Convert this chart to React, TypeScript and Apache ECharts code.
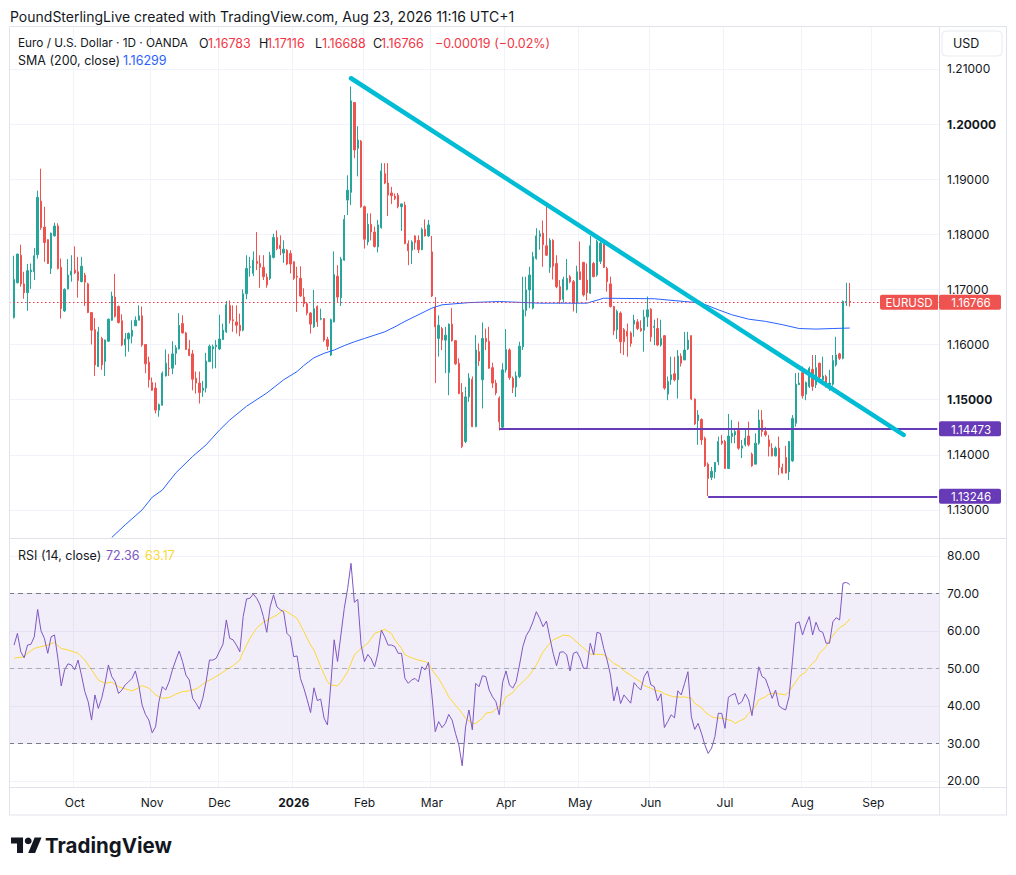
import React, { useEffect, useRef } from "react";
import * as echarts from "echarts";

// ---------- DATA ----------
const OPEN = [
  1.1649, 1.1712, 1.1762, 1.1710, 1.1694, 1.1732, 1.1732, 1.1763, 1.1860, 1.1813,
  1.1790, 1.1738, 1.1797, 1.1815, 1.1740, 1.1661, 1.1701, 1.1726, 1.1735, 1.1732,
  1.1714, 1.1726, 1.1710, 1.1658, 1.1627, 1.1560, 1.1611, 1.1569, 1.1606, 1.1644,
  1.1686, 1.1669, 1.1643, 1.1599, 1.1610, 1.1615, 1.1634, 1.1644, 1.1652, 1.1600,
  1.1568, 1.1531, 1.1521, 1.1481, 1.1490, 1.1543, 1.1557, 1.1557, 1.1584, 1.1592,
  1.1638, 1.1621, 1.1592, 1.1583, 1.1539, 1.1530, 1.1517, 1.1521, 1.1569, 1.1592,
  1.1596, 1.1592, 1.1609, 1.1623, 1.1671, 1.1645, 1.1641, 1.1635, 1.1626, 1.1692,
  1.1740, 1.1729, 1.1751, 1.1747, 1.1740, 1.1722, 1.1720, 1.1758, 1.1794, 1.1780,
  1.1766, 1.1771, 1.1765, 1.1750, 1.1724, 1.1720, 1.1686, 1.1674, 1.1657, 1.1632,
  1.1669, 1.1646, 1.1647, 1.1609, 1.1581, 1.1641, 1.1724, 1.1685, 1.1753, 1.1862,
  1.1876, 1.2039, 1.1956, 1.1969, 1.1850, 1.1786, 1.1818, 1.1804, 1.1777, 1.1812,
  1.1910, 1.1893, 1.1875, 1.1869, 1.1871, 1.1850, 1.1853, 1.1783, 1.1771, 1.1797,
  1.1789, 1.1772, 1.1809, 1.1797, 1.1768, 1.1668, 1.1611, 1.1629, 1.1608, 1.1549,
  1.1637, 1.1607, 1.1566, 1.1513, 1.1424, 1.1505, 1.1537, 1.1451, 1.1587, 1.1536,
  1.1611, 1.1606, 1.1558, 1.1530, 1.1503, 1.1450, 1.1554, 1.1590, 1.1539, 1.1523,
  1.1542, 1.1596, 1.1662, 1.1699, 1.1666, 1.1756, 1.1796, 1.1802, 1.1779, 1.1740,
  1.1789, 1.1747, 1.1705, 1.1682, 1.1700, 1.1723, 1.1714, 1.1678, 1.1732, 1.1749,
  1.1717, 1.1693, 1.1747, 1.1726, 1.1751, 1.1785, 1.1738, 1.1710, 1.1669, 1.1627,
  1.1657, 1.1627, 1.1624, 1.1621, 1.1637, 1.1641, 1.1629, 1.1626, 1.1650,
  1.1664, 1.1631, 1.1629, 1.1599, 1.1616, 1.1510, 1.1536, 1.1547, 1.1536, 1.1579,
  1.1572, 1.1592, 1.1616, 1.1501, 1.1462, 1.1464, 1.1430, 1.1383, 1.1359, 1.1369,
  1.1387, 1.1425, 1.1424, 1.1375, 1.1433, 1.1436, 1.1444, 1.1412, 1.1418, 1.1434,
  1.1401, 1.1383, 1.1421, 1.1463, 1.1442, 1.1427, 1.1412, 1.1398, 1.1412, 1.1377,
  1.1395, 1.1369, 1.1389, 1.1457, 1.1527, 1.1549, 1.1510, 1.1524, 1.1555, 1.1527,
  1.1566, 1.1536, 1.1542, 1.1527, 1.1528, 1.1563, 1.1583, 1.1575, 1.1676, 1.16783,
];
const HIGH = [
  1.1761, 1.1765, 1.1781, 1.1732, 1.1746, 1.1747, 1.1775, 1.1879, 1.1919, 1.1850,
  1.1791, 1.1803, 1.1821, 1.1820, 1.1756, 1.1702, 1.1755, 1.1762, 1.1778, 1.1759,
  1.1759, 1.1730, 1.1712, 1.1659, 1.1648, 1.1632, 1.1614, 1.1609, 1.1647, 1.1696,
  1.1728, 1.1671, 1.1655, 1.1621, 1.1622, 1.1644, 1.1651, 1.1671, 1.1669, 1.1601,
  1.1578, 1.1540, 1.1531, 1.1493, 1.1551, 1.1591, 1.1583, 1.1606, 1.1599, 1.1657,
  1.1653, 1.1623, 1.1608, 1.1590, 1.1551, 1.1551, 1.1534, 1.1585, 1.1600, 1.1600,
  1.1608, 1.1654, 1.1638, 1.1679, 1.1680, 1.1671, 1.1671, 1.1656, 1.1700, 1.1762,
  1.1759, 1.1769, 1.1804, 1.1762, 1.1762, 1.1729, 1.1768, 1.1801, 1.1807, 1.1798,
  1.1789, 1.1773, 1.1771, 1.1751, 1.1741, 1.1742, 1.1702, 1.1677, 1.1659, 1.1699,
  1.1671, 1.1665, 1.1648, 1.1614, 1.1647, 1.1769, 1.1744, 1.1759, 1.1835, 1.1907,
  1.2068, 1.2040, 1.1996, 1.1971, 1.1852, 1.1838, 1.1838, 1.1814, 1.1826, 1.1929,
  1.1929, 1.1929, 1.1886, 1.1874, 1.1875, 1.1856, 1.1859, 1.1789, 1.1789, 1.1798,
  1.1798, 1.1812, 1.1827, 1.1826, 1.1797, 1.1686, 1.1653, 1.1632, 1.1632, 1.1638,
  1.1666, 1.1608, 1.1575, 1.1530, 1.1523, 1.1548, 1.1542, 1.1617, 1.1602, 1.1640,
  1.1629, 1.1632, 1.1567, 1.1536, 1.1506, 1.1566, 1.1628, 1.1593, 1.1542, 1.1551,
  1.1605, 1.1723, 1.1723, 1.1741, 1.1768, 1.1811, 1.1807, 1.1825, 1.1850, 1.1793,
  1.1791, 1.1762, 1.1717, 1.1723, 1.1755, 1.1726, 1.1717, 1.1743, 1.1787, 1.1750,
  1.1747, 1.1797, 1.1750, 1.1790, 1.1787, 1.1790, 1.1741, 1.1723, 1.1670, 1.1663,
  1.1660, 1.1630, 1.1638, 1.1624, 1.1654, 1.1646, 1.1644, 1.1663, 1.1687,
  1.1666, 1.1645, 1.1648, 1.1645, 1.1617, 1.1542, 1.1578, 1.1578, 1.1590, 1.1584,
  1.1623, 1.1623, 1.1617, 1.1502, 1.1481, 1.1466, 1.1433, 1.1386, 1.1378, 1.1387,
  1.1433, 1.1436, 1.1427, 1.1474, 1.1463, 1.1445, 1.1460, 1.1427, 1.1448, 1.1460,
  1.1404, 1.1439, 1.1482, 1.1481, 1.1450, 1.1436, 1.1421, 1.1415, 1.1433, 1.1384,
  1.1416, 1.1425, 1.1472, 1.1548, 1.1549, 1.1560, 1.1533, 1.1560, 1.1581, 1.1581,
  1.1567, 1.1578, 1.1545, 1.1554, 1.1581, 1.1614, 1.1585, 1.1680, 1.1712, 1.17116,
];
const LOW = [
  1.1647, 1.1711, 1.1705, 1.1683, 1.1661, 1.1701, 1.1717, 1.1756, 1.1808, 1.1750,
  1.1746, 1.1728, 1.1796, 1.1736, 1.1647, 1.1659, 1.1700, 1.1714, 1.1728, 1.1685,
  1.1713, 1.1670, 1.1657, 1.1600, 1.1543, 1.1559, 1.1554, 1.1543, 1.1605, 1.1643,
  1.1649, 1.1638, 1.1597, 1.1578, 1.1587, 1.1602, 1.1634, 1.1644, 1.1596, 1.1548,
  1.1522, 1.1516, 1.1475, 1.1469, 1.1489, 1.1542, 1.1543, 1.1546, 1.1563, 1.1591,
  1.1620, 1.1590, 1.1579, 1.1517, 1.1511, 1.1493, 1.1505, 1.1513, 1.1568, 1.1556,
  1.1557, 1.1590, 1.1608, 1.1621, 1.1638, 1.1623, 1.1620, 1.1615, 1.1624, 1.1682,
  1.1723, 1.1724, 1.1735, 1.1703, 1.1717, 1.1703, 1.1717, 1.1756, 1.1771, 1.1762,
  1.1748, 1.1744, 1.1729, 1.1717, 1.1659, 1.1686, 1.1668, 1.1653, 1.1620, 1.1630,
  1.1632, 1.1644, 1.1605, 1.1590, 1.1579, 1.1640, 1.1677, 1.1670, 1.1752, 1.1835,
  1.1853, 1.1938, 1.1905, 1.1848, 1.1774, 1.1780, 1.1789, 1.1776, 1.1767, 1.1810,
  1.1891, 1.1833, 1.1855, 1.1862, 1.1847, 1.1806, 1.1782, 1.1744, 1.1746, 1.1772,
  1.1766, 1.1771, 1.1796, 1.1795, 1.1686, 1.1530, 1.1578, 1.1590, 1.1548, 1.1508,
  1.1605, 1.1563, 1.1510, 1.1412, 1.1421, 1.1496, 1.1450, 1.1450, 1.1561, 1.1484,
  1.1590, 1.1556, 1.1521, 1.1508, 1.1444, 1.1448, 1.1549, 1.1536, 1.1512, 1.1505,
  1.1539, 1.1590, 1.1651, 1.1666, 1.1664, 1.1754, 1.1772, 1.1741, 1.1761, 1.1730,
  1.1718, 1.1702, 1.1674, 1.1676, 1.1698, 1.1711, 1.1660, 1.1657, 1.1717, 1.1687,
  1.1680, 1.1692, 1.1722, 1.1723, 1.1746, 1.1739, 1.1696, 1.1667, 1.1617, 1.1610,
  1.1584, 1.1581, 1.1578, 1.1596, 1.1614, 1.1626, 1.1623, 1.1587, 1.1632,
  1.1605, 1.1599, 1.1597, 1.1596, 1.1518, 1.1499, 1.1527, 1.1533, 1.1502, 1.1560,
  1.1572, 1.1590, 1.1499, 1.1454, 1.1418, 1.1418, 1.1378, 1.1325, 1.1354, 1.1357,
  1.1381, 1.1418, 1.1375, 1.1375, 1.1421, 1.1421, 1.1409, 1.1394, 1.1415, 1.1415,
  1.1378, 1.1383, 1.1418, 1.1433, 1.1433, 1.1397, 1.1397, 1.1397, 1.1363, 1.1366,
  1.1366, 1.1354, 1.1387, 1.1451, 1.1527, 1.1502, 1.1499, 1.1521, 1.1516, 1.1521,
  1.1539, 1.1527, 1.1522, 1.1516, 1.1525, 1.1560, 1.1572, 1.1573, 1.1670, 1.16688,
];
const CLOSE = [
  1.1718, 1.1764, 1.1710, 1.1694, 1.1734, 1.1735, 1.1761, 1.1867, 1.1812, 1.1785,
  1.1747, 1.1802, 1.1815, 1.1738, 1.1665, 1.1700, 1.1726, 1.1733, 1.1730, 1.1716,
  1.1742, 1.1713, 1.1658, 1.1626, 1.1563, 1.1623, 1.1563, 1.1608, 1.1646, 1.1688,
  1.1651, 1.1640, 1.1599, 1.1610, 1.1620, 1.1626, 1.1644, 1.1652, 1.1599, 1.1565,
  1.1536, 1.1517, 1.1481, 1.1491, 1.1548, 1.1566, 1.1556, 1.1583, 1.1594, 1.1635,
  1.1621, 1.1591, 1.1580, 1.1537, 1.1530, 1.1513, 1.1521, 1.1570, 1.1597, 1.1596,
  1.1599, 1.1610, 1.1626, 1.1672, 1.1644, 1.1643, 1.1635, 1.1625, 1.1692, 1.1738,
  1.1741, 1.1753, 1.1747, 1.1740, 1.1723, 1.1708, 1.1762, 1.1794, 1.1774, 1.1774,
  1.1773, 1.1746, 1.1746, 1.1720, 1.1722, 1.1688, 1.1674, 1.1657, 1.1637, 1.1665,
  1.1641, 1.1647, 1.1608, 1.1597, 1.1645, 1.1727, 1.1686, 1.1755, 1.1827, 1.1880,
  1.2042, 1.1953, 1.1971, 1.1850, 1.1791, 1.1818, 1.1804, 1.1778, 1.1817, 1.1915,
  1.1893, 1.1871, 1.1870, 1.1865, 1.1850, 1.1855, 1.1783, 1.1770, 1.1786, 1.1785,
  1.1772, 1.1809, 1.1797, 1.1817, 1.1688, 1.1632, 1.1635, 1.1608, 1.1617, 1.1637,
  1.1607, 1.1565, 1.1511, 1.1415, 1.1505, 1.1539, 1.1451, 1.1590, 1.1570, 1.1611,
  1.1605, 1.1557, 1.1530, 1.1512, 1.1460, 1.1554, 1.1591, 1.1540, 1.1522, 1.1543,
  1.1597, 1.1663, 1.1699, 1.1726, 1.1759, 1.1797, 1.1801, 1.1781, 1.1762, 1.1789,
  1.1742, 1.1705, 1.1681, 1.1718, 1.1720, 1.1714, 1.1675, 1.1732, 1.1718, 1.1690,
  1.1694, 1.1779, 1.1723, 1.1787, 1.1784, 1.1740, 1.1714, 1.1669, 1.1625, 1.1660,
  1.1605, 1.1605, 1.1615, 1.1602, 1.1644, 1.1629, 1.1625, 1.1650, 1.1663,
  1.1614, 1.1633, 1.1599, 1.1611, 1.1521, 1.1533, 1.1545, 1.1536, 1.1579, 1.1566,
  1.1590, 1.1608, 1.1501, 1.1456, 1.1472, 1.1427, 1.1380, 1.1357, 1.1370, 1.1386,
  1.1424, 1.1421, 1.1375, 1.1434, 1.1439, 1.1442, 1.1412, 1.1416, 1.1430, 1.1418,
  1.1380, 1.1421, 1.1463, 1.1442, 1.1436, 1.1415, 1.1398, 1.1412, 1.1377, 1.1367,
  1.1367, 1.1424, 1.1466, 1.1528, 1.1530, 1.1507, 1.1531, 1.1557, 1.1524, 1.1558,
  1.1541, 1.1543, 1.1524, 1.1530, 1.1571, 1.1581, 1.1575, 1.1678, 1.1678, 1.16766,
];

// SMA (200, close): bar index -> value
const SMA_IDX = [29, 33, 38, 41, 44, 48, 53, 57, 61, 64, 69, 75, 80, 84, 86, 89, 92, 95, 98, 101, 104, 107, 110, 113, 116, 119, 122, 124, 127, 135, 144, 156, 170, 175, 190, 199, 204, 209, 213, 218, 223, 228, 233, 238, 243, 248];
const SMA_VAL = [1.1250, 1.1273, 1.1300, 1.1323, 1.1336, 1.1367, 1.1397, 1.1418, 1.1445, 1.1463, 1.1488, 1.1512, 1.1536, 1.1551, 1.1562, 1.1576, 1.1584, 1.1590, 1.1598, 1.1605, 1.1611, 1.1617, 1.1623, 1.1632, 1.1642, 1.1651, 1.1660, 1.1666, 1.1672, 1.1676, 1.1678, 1.1675, 1.1675, 1.1684, 1.1683, 1.1678, 1.1675, 1.1663, 1.1654, 1.1646, 1.1642, 1.1636, 1.1629, 1.1628, 1.1629, 1.16299];

// RSI (14, close), one value per bar
const RSI = [
  56.2, 59.3, 54.4, 52.8, 56.2, 56.4, 58.4, 65.7, 60.0, 58.0,
  54.0, 58.4, 58.9, 52.7, 45.3, 49.6, 51.2, 50.9, 49.6, 52.2,
  48.2, 43.8, 41.1, 36.2, 42.9, 39.3, 42.0, 46.0, 50.9, 47.8,
  46.4, 43.3, 44.2, 45.6, 46.4, 47.3, 49.3, 45.6, 40.2, 37.7,
  36.2, 32.8, 34.4, 41.1, 45.1, 44.2, 46.4, 49.6, 52.2, 54.6,
  51.8, 48.2, 46.9, 42.0, 40.7, 39.1, 42.0, 46.4, 52.2, 52.2,
  52.7, 54.6, 56.4, 62.9, 58.0, 57.6, 56.2, 54.4, 63.8, 68.5,
  68.7, 69.8, 68.7, 66.9, 63.8, 59.6, 66.4, 69.6, 66.4, 65.6,
  65.1, 59.3, 58.4, 53.1, 53.3, 47.3, 44.7, 41.6, 38.2, 44.8,
  41.4, 41.8, 36.7, 34.9, 45.6, 57.6, 51.8, 58.9, 66.0, 71.3,
  78.0, 67.6, 68.4, 56.2, 51.8, 53.7, 52.5, 50.4, 54.0, 60.2,
  58.4, 56.2, 56.2, 55.8, 54.0, 54.0, 47.3, 46.0, 46.9, 47.3,
  46.4, 50.4, 49.6, 51.6, 42.9, 33.1, 35.8, 34.2, 35.3, 37.7,
  36.2, 32.7, 29.6, 24.0, 34.4, 38.9, 33.6, 46.0, 45.1, 48.0,
  47.8, 44.2, 42.4, 41.1, 37.6, 46.3, 49.3, 45.6, 44.7, 46.4,
  50.9, 55.8, 58.7, 60.2, 62.4, 65.1, 63.3, 61.1, 62.6, 58.2,
  54.0, 50.7, 54.3, 54.4, 53.6, 49.3, 54.0, 54.4, 52.7, 50.0,
  50.0, 56.7, 53.6, 59.6, 59.3, 55.3, 52.2, 48.2, 41.3, 45.1,
  40.6, 42.9, 41.8, 40.7, 46.2, 45.1, 44.2, 47.8, 49.3, 45.6,
  45.1, 41.3, 43.2, 34.2, 35.8, 37.6, 36.8, 44.0, 42.9, 46.0,
  49.1, 37.1, 33.7, 35.3, 32.7, 29.6, 27.3, 28.7, 31.8, 38.0,
  38.0, 34.0, 42.3, 42.9, 43.3, 40.4, 41.1, 43.2, 41.6, 37.4,
  43.8, 50.4, 47.8, 47.2, 44.7, 42.0, 44.2, 40.0, 39.3, 38.9,
  42.4, 51.8, 62.0, 62.4, 58.9, 61.6, 63.8, 58.9, 62.3, 60.0,
  59.6, 56.7, 56.7, 62.4, 63.5, 62.9, 72.7, 72.9, 72.36,
];

// RSI-based moving average: bar index -> value
const RSIMA_IDX = [0, 3, 4, 6, 8, 10, 12, 14, 16, 19, 21, 23, 25, 27, 29, 31, 33, 35, 37, 38, 40, 42, 44, 46, 48, 50, 52, 54, 55, 57, 59, 61, 63, 65, 67, 68, 70, 72, 74, 76, 78, 80, 81, 82, 84, 86, 88, 89, 91, 93, 94, 96, 97, 99, 101, 103, 105, 107, 109, 110, 112, 113, 115, 116, 118, 120, 122, 123, 124, 126, 128, 129, 131, 133, 134, 136, 137, 139, 140, 142, 143, 145, 146, 148, 149, 151, 153, 155, 157, 159, 160, 162, 163, 165, 166, 168, 170, 171, 172, 174, 175, 177, 178, 180, 181, 183, 184, 186, 187, 189, 190, 192, 193, 195, 196, 198, 199, 201, 202, 204, 205, 207, 208, 210, 211, 213, 214, 215, 217, 218, 220, 221, 223, 224, 226, 227, 229, 230, 232, 233, 235, 236, 238, 239, 241, 242, 244, 245, 247, 248];
const RSIMA_VAL = [52.7, 53.1, 54.0, 55.3, 55.8, 56.2, 56.9, 55.3, 54.9, 54.0, 52.2, 49.6, 46.9, 46.0, 46.3, 45.1, 44.5, 44.0, 44.8, 45.4, 44.7, 42.9, 42.0, 42.2, 43.1, 43.8, 44.0, 44.5, 45.1, 46.4, 47.3, 48.4, 49.6, 50.7, 52.2, 54.4, 58.0, 60.7, 62.3, 63.3, 64.2, 65.6, 65.1, 64.5, 63.3, 59.8, 56.2, 54.9, 50.4, 46.4, 45.6, 45.3, 46.3, 49.1, 53.6, 55.3, 56.7, 59.3, 60.0, 60.4, 59.3, 57.6, 55.3, 53.6, 52.8, 52.2, 51.8, 51.3, 49.6, 47.3, 44.2, 42.4, 40.2, 38.0, 36.7, 35.3, 35.3, 36.7, 38.0, 38.4, 39.2, 40.4, 42.4, 43.5, 44.7, 46.4, 48.2, 50.9, 54.4, 56.7, 57.6, 58.4, 58.9, 58.6, 57.8, 56.2, 54.6, 53.7, 53.8, 53.7, 53.6, 52.2, 51.3, 50.4, 49.3, 48.2, 47.5, 46.4, 45.4, 44.7, 44.2, 43.8, 43.2, 42.6, 42.4, 42.3, 42.4, 42.0, 40.7, 39.5, 38.4, 37.1, 36.8, 36.7, 36.5, 36.0, 35.3, 35.8, 36.7, 38.0, 39.8, 41.6, 42.4, 43.1, 43.5, 43.2, 42.9, 43.8, 46.4, 47.8, 49.1, 50.4, 52.2, 54.0, 55.8, 57.6, 59.8, 60.8, 62.0, 63.17];

// Drawings
const TREND_IDX = [100, 264];
const TREND_VAL = [1.2083, 1.1436];
const SUPPORT_START = [144, 206];
const SUPPORT_VAL = [1.14473, 1.13246];
const LAST_PRICE = 1.16766;

const FUTURE_BARS = 26;
const PRICE_TICKS = [1.13, 1.14, 1.15, 1.16, 1.17, 1.18, 1.19, 1.2, 1.21];
const BOLD_TICKS = [1.15, 1.2];
const RSI_TICKS = [20, 30, 40, 50, 60, 70, 80];
const MONTH_NAMES = ["Jan", "Feb", "Mar", "Apr", "May", "Jun", "Jul", "Aug", "Sep", "Oct", "Nov", "Dec"];

// ---------- helpers ----------
function buildDates(count: number): string[] {
  const out: string[] = [];
  const d = new Date(Date.UTC(2025, 8, 5));
  while (out.length < count) {
    const wd = d.getUTCDay();
    const m = d.getUTCMonth();
    const day = d.getUTCDate();
    const holiday = (m === 11 && day === 25) || (m === 0 && day === 1);
    if (wd !== 0 && wd !== 6 && !holiday) out.push(d.toISOString().slice(0, 10));
    d.setUTCDate(d.getUTCDate() + 1);
  }
  return out;
}

const CATS = ["", ...buildDates(OPEN.length + FUTURE_BARS)];
const isMonthStart = (index: number) =>
  index >= 2 && CATS[index].slice(0, 7) !== CATS[index - 1].slice(0, 7);

const FONT = "Inter, 'Noto Sans', sans-serif";
const TXT = "#131722";
const GRID = "#f0f3fa";
const BORDER = "#e0e3eb";
const UP = "#26a69a";
const DOWN = "#ef5350";
const RED_TXT = "#f23645";
const PURPLE = "#673ab7";

export default function App() {
  const ref = useRef<HTMLDivElement>(null);

  useEffect(() => {
    const el = ref.current;
    if (!el) return;
    const chart = echarts.init(el, null, { renderer: "svg" });

    const candleData = OPEN.map((o, i) => [i + 1, o, CLOSE[i], LOW[i], HIGH[i]]);
    const lastCat = CATS.length - 1;

    const option: any = {
      animation: false,
      backgroundColor: "#ffffff",
      textStyle: { fontFamily: FONT },
      grid: [
        { left: 9, width: 930, top: 27, height: 511 },
        { left: 9, width: 930, top: 538, height: 249 },
      ],
      xAxis: [
        {
          type: "category",
          gridIndex: 0,
          data: CATS,
          boundaryGap: true,
          axisLine: { show: false },
          axisTick: { show: false },
          axisLabel: { show: false },
          splitLine: { show: true, interval: isMonthStart, lineStyle: { color: GRID, width: 1 } },
        },
        {
          type: "category",
          gridIndex: 1,
          data: CATS,
          boundaryGap: true,
          axisLine: { show: false },
          axisTick: { show: false },
          splitLine: { show: true, interval: isMonthStart, lineStyle: { color: GRID, width: 1 } },
          axisLabel: {
            show: true,
            interval: isMonthStart,
            margin: 9,
            color: TXT,
            fontSize: 12,
            fontFamily: FONT,
            formatter: (v: string) => {
              if (!v) return "";
              const m = Number(v.slice(5, 7));
              return m === 1 ? `{b|${v.slice(0, 4)}}` : MONTH_NAMES[m - 1];
            },
            rich: { b: { fontWeight: "bold", fontSize: 12, fontFamily: FONT, color: TXT } },
          },
        },
      ],
      yAxis: [
        {
          type: "value",
          gridIndex: 0,
          position: "right",
          min: 1.1249,
          max: 1.2176,
          axisLine: { show: false },
          axisTick: { show: false, customValues: PRICE_TICKS },
          splitLine: { show: true, lineStyle: { color: GRID, width: 1 } },
          axisLabel: {
            customValues: PRICE_TICKS,
            margin: 8,
            color: TXT,
            fontSize: 12,
            lineHeight: 12,
            fontFamily: FONT,
            formatter: (v: number) => {
              const s = v.toFixed(5);
              return BOLD_TICKS.some((b) => Math.abs(b - v) < 1e-7) ? `{b|${s}}` : s;
            },
            rich: { b: { fontWeight: "bold", fontSize: 12, lineHeight: 12, fontFamily: FONT, color: TXT } },
          },
        },
        {
          type: "value",
          gridIndex: 1,
          position: "right",
          min: 18.35,
          max: 84.75,
          axisLine: { show: false },
          axisTick: { show: false, customValues: RSI_TICKS },
          splitLine: { show: true, lineStyle: { color: GRID, width: 1 } },
          axisLabel: {
            customValues: RSI_TICKS,
            margin: 8,
            color: TXT,
            fontSize: 12,
            lineHeight: 12,
            fontFamily: FONT,
            formatter: (v: number) => v.toFixed(2),
          },
        },
      ],
      series: [
        {
          name: "EURUSD",
          type: "candlestick",
          xAxisIndex: 0,
          yAxisIndex: 0,
          data: candleData,
          encode: { x: 0, y: [1, 2, 3, 4] },
          barWidth: 1.8,
          z: 3,
          itemStyle: { color: UP, color0: DOWN, borderColor: UP, borderColor0: DOWN, borderWidth: 1 },
          markLine: {
            silent: true,
            precision: 5,
            symbol: ["none", "none"],
            label: { show: false },
            animation: false,
            data: [
              { yAxis: LAST_PRICE, lineStyle: { color: RED_TXT, width: 1, type: [1.5, 2.5] } },
              ...SUPPORT_VAL.map((v, j) => [
                { coord: [SUPPORT_START[j] + 1, v], lineStyle: { color: PURPLE, width: 2, type: "solid" } },
                { coord: [lastCat, v] },
              ]),
            ],
          },
        },
        {
          name: "SMA",
          type: "line",
          xAxisIndex: 0,
          yAxisIndex: 0,
          data: SMA_IDX.map((i, j) => [i + 1, SMA_VAL[j]]),
          showSymbol: false,
          symbol: "none",
          z: 4,
          lineStyle: { color: "#2962ff", width: 1 },
        },
        {
          name: "Trend",
          type: "line",
          xAxisIndex: 0,
          yAxisIndex: 0,
          data: TREND_IDX.map((i, j) => [i + 1, TREND_VAL[j]]),
          symbol: "none",
          z: 5,
          lineStyle: { color: "#00bcd4", width: 4.5, cap: "round" },
        },
        {
          name: "RSI-MA",
          type: "line",
          xAxisIndex: 1,
          yAxisIndex: 1,
          data: RSIMA_IDX.map((i, j) => [i + 1, RSIMA_VAL[j]]),
          symbol: "none",
          z: 2,
          lineStyle: { color: "#fdd835", width: 1 },
          markArea: {
            silent: true,
            itemStyle: { color: "rgba(126,87,194,0.1)" },
            data: [[{ yAxis: 30 }, { yAxis: 70 }]],
          },
          markLine: {
            silent: true,
            precision: 2,
            symbol: ["none", "none"],
            label: { show: false },
            data: [
              { yAxis: 70, lineStyle: { color: "#787b86", width: 1, type: [5, 4] } },
              { yAxis: 50, lineStyle: { color: "rgba(120,123,134,0.55)", width: 1, type: [5, 4] } },
              { yAxis: 30, lineStyle: { color: "#787b86", width: 1, type: [5, 4] } },
            ],
          },
        },
        {
          name: "RSI",
          type: "line",
          xAxisIndex: 1,
          yAxisIndex: 1,
          data: RSI.map((v, i) => [i + 1, v]),
          symbol: "none",
          z: 3,
          lineStyle: { color: "#7e57c2", width: 1 },
        },
      ],
    };

    chart.setOption(option);

    const yOf = (v: number) => chart.convertToPixel({ yAxisIndex: 0 } as any, v) as unknown as number;

    const t = (id: string, x: number, y: number, text: string, fill: string, extra: any = {}) => ({
      id,
      type: "text",
      x,
      y,
      z: 100,
      silent: true,
      style: {
        text,
        fill,
        fontSize: 12.5,
        fontFamily: FONT,
        verticalAlign: "middle",
        align: "left",
        ...extra,
      },
    });

    const boxW = 62;
    const boxH = 15;
    const axisX = 939;
    const priceBox = (id: string, v: number, color: string) => {
      const y = yOf(v);
      return [
        { id: id + "-r", type: "rect", z: 100, silent: true, shape: { x: axisX, y: y - boxH / 2, width: boxW, height: boxH, r: 2 }, style: { fill: color } },
        t(id + "-t", axisX + boxW / 2 + 1, y + 1, v.toFixed(5), "#ffffff", { align: "center", fontSize: 11.5, lineHeight: 11.5 }),
      ];
    };

    const yLast = yOf(LAST_PRICE);
    const s = 0.86;
    const lx = 11;
    const ly = 834;
    const P = (px: number, py: number) => [lx + px * s, ly + py * s];

    const graphics: any[] = [
      // frame + separators
      { id: "frame", type: "rect", z: 90, silent: true, shape: { x: 9.5, y: 26.5, width: 997, height: 788.5 }, style: { fill: "none", stroke: BORDER, lineWidth: 1 } },
      { id: "sepV", type: "line", z: 90, silent: true, shape: { x1: 939.5, y1: 26.5, x2: 939.5, y2: 815 }, style: { stroke: BORDER, lineWidth: 1 } },
      { id: "sepH1", type: "line", z: 90, silent: true, shape: { x1: 9.5, y1: 538.5, x2: 1006.5, y2: 538.5 }, style: { stroke: BORDER, lineWidth: 1 } },
      { id: "sepH2", type: "line", z: 90, silent: true, shape: { x1: 9.5, y1: 787.5, x2: 1006.5, y2: 787.5 }, style: { stroke: BORDER, lineWidth: 1 } },
      // header
      t("hdr", 10, 16, "PoundSterlingLive created with TradingView.com, Aug 23, 2026 11:16 UTC+1", TXT, { fontSize: 14 }),
      t("l1a", 18, 43, "Euro / U.S. Dollar · 1D · OANDA", TXT, { fontSize: 11.8 }),
      t("l1o", 199, 43, "O", TXT),
      t("l1ov", 208, 43, "1.16783", RED_TXT),
      t("l1h", 259, 43, "H", TXT),
      t("l1hv", 267, 43, "1.17116", RED_TXT),
      t("l1l", 315, 43, "L", TXT),
      t("l1lv", 322, 43, "1.16688", RED_TXT),
      t("l1c", 373, 43, "C", TXT),
      t("l1cv", 381, 43, "1.16766", RED_TXT),
      t("l1ch", 435, 43, "−0.00019 (−0.02%)", RED_TXT),
      t("l2a", 18, 60, "SMA (200, close)", TXT),
      t("l2v", 123, 60, "1.16299", "#2962ff"),
      t("l3a", 18, 555, "RSI (14, close)", TXT),
      t("l3v", 106, 555, "72.36", "#7e57c2"),
      t("l3m", 145, 555, "63.17", "#fdd835"),
      // USD box
      { id: "usdBox", type: "rect", z: 100, silent: true, shape: { x: 942, y: 31, width: 60, height: 25, r: 4 }, style: { fill: "#ffffff", stroke: "#e9ebf0", lineWidth: 1 } },
      t("usd", 953, 43.5, "USD", TXT, { fontSize: 12.5 }),
      // EURUSD label + price box
      { id: "symBox", type: "rect", z: 100, silent: true, shape: { x: 880, y: yLast - boxH / 2, width: 58, height: boxH, r: [2, 0, 0, 2] }, style: { fill: DOWN } },
      t("symTxt", 909, yLast + 1, "EURUSD", "#ffffff", { align: "center", fontSize: 11.5, lineHeight: 11.5 }),
      ...priceBox("last", LAST_PRICE, DOWN),
      ...SUPPORT_VAL.flatMap((v, j) => priceBox("sup" + j, v, PURPLE)),
      // TradingView logo
      { id: "logoT", type: "polygon", z: 100, silent: true, shape: { points: [P(0, 4), P(14, 4), P(14, 22), P(7, 22), P(7, 11), P(0, 11)] }, style: { fill: TXT } },
      { id: "logoC", type: "circle", z: 100, silent: true, shape: { cx: lx + 20 * s, cy: ly + 8 * s, r: 4 * s }, style: { fill: TXT } },
      { id: "logoP", type: "polygon", z: 100, silent: true, shape: { points: [P(20, 22), P(27.5, 4), P(35.5, 4), P(28, 22)] }, style: { fill: TXT } },
      t("logoTxt", 45, 845, "TradingView", TXT, { fontSize: 20.5, fontWeight: 700 }),
    ];

    chart.setOption({ graphic: graphics });

    return () => {
      chart.dispose();
    };
  }, []);

  return (
    <div
      ref={ref}
      style={{ position: "absolute", left: 0, top: 0, width: 1016, height: 875, background: "#ffffff" }}
    />
  );
}
